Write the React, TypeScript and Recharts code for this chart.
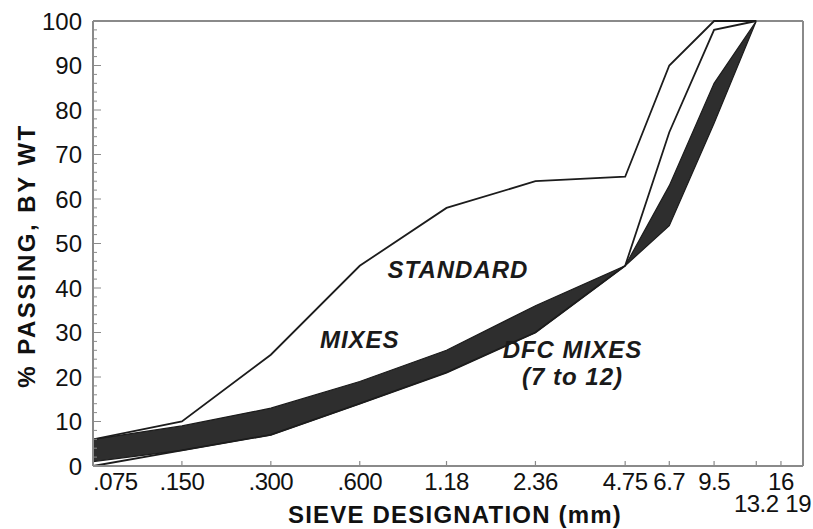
import {
  ComposedChart,
  Area,
  Line,
  XAxis,
  YAxis,
  ReferenceLine,
  ReferenceDot,
} from 'recharts'

// sieve openings (mm) where the gradation curves have vertices
const SIEVES = [0.075, 0.15, 0.3, 0.6, 1.18, 2.36, 4.75, 6.7, 9.5, 13.2]

// standard mixes envelope
const STD_UPPER = [6, 10, 25, 45, 58, 64, 65, 90, 100, 100]
const STD_LOWER = [0, 3.5, 7, 14, 21, 30, 45, 75, 98, 100]

// DFC mixes 7 to 12 (shaded band)
const DFC_UPPER = [6, 9, 13, 19, 26, 36, 45, 63, 86, 100]
const DFC_LOWER = [1, 3.5, 7, 14, 21, 30, 45, 54, 77, 100]

const TICK_SIEVES = [0.075, 0.15, 0.3, 0.6, 1.18, 2.36, 4.75, 6.7, 9.5, 13.2, 16, 19]
const TICK_LABELS = ['.075', '.150', '.300', '.600', '1.18', '2.36', '4.75', '6.7', '9.5', '13.2', '16', '19']
const LOW_ROW = ['13.2', '19']

const Y_LABELS = [0, 10, 20, 30, 40, 50, 60, 70, 80, 90, 100]
const Y_TICKS = Array.from({ length: 51 }, (_, i) => i * 2)

const rows = SIEVES.map((size, i) => ({
  size,
  band: [DFC_LOWER[i], DFC_UPPER[i]],
  upper: STD_UPPER[i],
  lower: STD_LOWER[i],
}))

const FONT = '"Liberation Sans", Arial, Helvetica, sans-serif'
const AXIS = '#8a8a8a'
const INK = '#1c1c1c'

const SieveTick = ({ x, y, payload }: any) => {
  const i = TICK_SIEVES.indexOf(payload.value)
  const label = TICK_LABELS[i]
  const last = i === TICK_LABELS.length - 1
  const anchor = i === 0 ? 'start' : last ? 'end' : 'middle'
  const low = LOW_ROW.includes(label)
  return (
    <g>
      {i > 0 && !last && <line x1={x} x2={x} y1={y} y2={y - 5} stroke={AXIS} strokeWidth={1.2} />}
      <text
        x={last ? x + 8 : x}
        y={y + (low ? 46 : 24)}
        textAnchor={anchor}
        fontFamily={FONT}
        fontSize={24}
        letterSpacing={-0.5}
        fill="#111"
      >
        {label}
      </text>
    </g>
  )
}

const PercentTick = ({ x, y, payload }: any) => {
  const major = Y_LABELS.includes(payload.value)
  return (
    <g>
      <line x1={x} x2={x + (major ? 8 : 4)} y1={y} y2={y} stroke={AXIS} strokeWidth={1} />
      {major && (
        <text x={x - 11} y={y} dy="0.36em" textAnchor="end" fontFamily={FONT} fontSize={24} fill="#111">
          {payload.value}
        </text>
      )}
    </g>
  )
}

const RightTick = ({ x, y, payload }: any) => {
  const major = Y_LABELS.includes(payload.value)
  return <line x1={x - (major ? 8 : 4)} x2={x} y1={y} y2={y} stroke={AXIS} strokeWidth={1} />
}

const note = (text: string) => (props: any) => {
  const { x, y, width } = props.viewBox
  return (
    <text
      x={x + width / 2}
      y={y}
      textAnchor="middle"
      fontFamily={FONT}
      fontSize={24}
      fontWeight="bold"
      fontStyle="italic"
      letterSpacing={1}
      fill="#1a1a1a"
    >
      {text}
    </text>
  )
}

export default function App() {
  return (
    <div style={{ position: 'absolute', left: 0, top: 0, width: 813, height: 529, background: '#fff' }}>
      <ComposedChart width={813} height={529} data={rows} margin={{ top: 21, right: 0, bottom: 0, left: 0 }}>
        <XAxis
          dataKey="size"
          type="number"
          scale="log"
          domain={[0.075, 19]}
          allowDataOverflow
          ticks={TICK_SIEVES}
          interval={0}
          tick={<SieveTick />}
          tickLine={false}
          tickSize={0}
          tickMargin={0}
          height={63}
          axisLine={{ stroke: AXIS, strokeWidth: 2 }}
          label={(props: any) => {
            const { x, y, width } = props.viewBox
            return (
              <text
                x={x + width / 2 + 7}
                y={y + 57}
                textAnchor="middle"
                fontFamily={FONT}
                fontSize={24}
                fontWeight="bold"
                letterSpacing={1.2}
                fill="#111"
              >
                SIEVE DESIGNATION (mm)
              </text>
            )
          }}
        />
        <YAxis
          yAxisId="left"
          type="number"
          domain={[0, 100]}
          ticks={Y_TICKS}
          interval={0}
          width={93}
          tick={<PercentTick />}
          tickLine={false}
          tickSize={0}
          tickMargin={0}
          axisLine={{ stroke: AXIS, strokeWidth: 2 }}
          label={(props: any) => {
            const { y, height } = props.viewBox
            const cy = y + height / 2 + 12
            return (
              <text
                x={35}
                y={cy}
                transform={`rotate(-90 35 ${cy})`}
                textAnchor="middle"
                fontFamily={FONT}
                fontSize={24}
                fontWeight="bold"
                letterSpacing={2.5}
                fill="#111"
              >
                % PASSING, BY WT
              </text>
            )
          }}
        />
        <YAxis
          yAxisId="right"
          orientation="right"
          type="number"
          domain={[0, 100]}
          ticks={Y_TICKS}
          interval={0}
          width={10}
          tick={<RightTick />}
          tickLine={false}
          tickSize={0}
          tickMargin={0}
          axisLine={{ stroke: AXIS, strokeWidth: 2 }}
        />
        <ReferenceLine yAxisId="left" y={100} stroke={AXIS} strokeWidth={2} />
        <Area
          yAxisId="left"
          dataKey="band"
          type="linear"
          stroke={INK}
          strokeWidth={1.2}
          fill="#2e2e2e"
          fillOpacity={1}
          isAnimationActive={false}
        />
        <Line yAxisId="left" dataKey="upper" type="linear" stroke={INK} strokeWidth={1.8} dot={false} isAnimationActive={false} />
        <Line yAxisId="left" dataKey="lower" type="linear" stroke={INK} strokeWidth={1.8} dot={false} isAnimationActive={false} />
        <ReferenceDot yAxisId="left" x={1.29} y={42} r={1} fill="none" stroke="none" label={note('STANDARD')} />
        <ReferenceDot yAxisId="left" x={0.6} y={26.3} r={1} fill="none" stroke="none" label={note('MIXES')} />
        <ReferenceDot yAxisId="left" x={3.15} y={24} r={1} fill="none" stroke="none" label={note('DFC MIXES')} />
        <ReferenceDot yAxisId="left" x={3.15} y={18} r={1} fill="none" stroke="none" label={note('(7 to 12)')} />
      </ComposedChart>
    </div>
  )
}
